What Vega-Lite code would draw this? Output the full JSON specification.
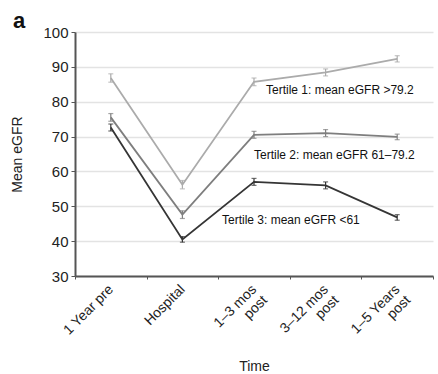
{
  "$schema": "https://vega.github.io/schema/vega-lite/v6.json",
  "autosize": "none",
  "padding": {"left": 75, "top": 32, "right": 5, "bottom": 98},
  "width": 358,
  "height": 244,
  "background": "white",
  "title": {"text": "a", "anchor": "start", "frame": "group", "dx": -62, "dy": 10, "offset": 2, "fontSize": 22, "fontWeight": "bold", "font": "Liberation Sans", "color": "#111"},
  "config": {
    "font": "Liberation Sans",
    "view": {"stroke": null},
    "axis": {"labelFont": "Liberation Sans", "titleFont": "Liberation Sans", "labelColor": "#222", "titleColor": "#222", "titleFontWeight": "normal", "labelFontSize": 14, "titleFontSize": 14, "domainColor": "#555", "domainWidth": 2, "tickColor": "#555"}
  },
  "datasets": {
    "series": [
      {"time": "1 Year pre", "tertile": "T1", "egfr": 86.8, "lo": 85.6, "hi": 88.0},
      {"time": "Hospital", "tertile": "T1", "egfr": 56.2, "lo": 55.0, "hi": 57.4},
      {"time": "1–3 mos post", "tertile": "T1", "egfr": 85.7, "lo": 84.6, "hi": 86.8},
      {"time": "3–12 mos post", "tertile": "T1", "egfr": 88.4, "lo": 87.4, "hi": 89.4},
      {"time": "1–5 Years post", "tertile": "T1", "egfr": 92.3, "lo": 91.4, "hi": 93.2},
      {"time": "1 Year pre", "tertile": "T2", "egfr": 75.5, "lo": 74.4, "hi": 76.6},
      {"time": "Hospital", "tertile": "T2", "egfr": 47.6, "lo": 46.5, "hi": 48.7},
      {"time": "1–3 mos post", "tertile": "T2", "egfr": 70.5, "lo": 69.5, "hi": 71.5},
      {"time": "3–12 mos post", "tertile": "T2", "egfr": 71.0, "lo": 70.0, "hi": 72.0},
      {"time": "1–5 Years post", "tertile": "T2", "egfr": 69.9, "lo": 69.1, "hi": 70.7},
      {"time": "1 Year pre", "tertile": "T3", "egfr": 72.6, "lo": 71.6, "hi": 73.6},
      {"time": "Hospital", "tertile": "T3", "egfr": 40.5, "lo": 39.7, "hi": 41.3},
      {"time": "1–3 mos post", "tertile": "T3", "egfr": 57.0, "lo": 56.0, "hi": 58.0},
      {"time": "3–12 mos post", "tertile": "T3", "egfr": 56.0, "lo": 55.0, "hi": 57.0},
      {"time": "1–5 Years post", "tertile": "T3", "egfr": 46.8, "lo": 46.0, "hi": 47.6}
    ]
  },
  "encoding": {
    "x": {"field": "time", "type": "nominal", "sort": null,
      "scale": {"domain": ["1 Year pre", "Hospital", "1–3 mos post", "3–12 mos post", "1–5 Years post"], "paddingInner": 0, "paddingOuter": 0},
      "axis": {"title": "Time", "labelAngle": -45, "labelAlign": "right", "labelBaseline": "middle", "tickBand": "extent", "tickSize": 3, "labelPadding": 8, "titlePadding": 13,
        "labelExpr": "indexof(datum.label, ' post') > 0 ? [replace(datum.label, ' post', ''), 'post'] : datum.label", "labelLineHeight": 15, "grid": false}}
  },
  "layer": [
    {
      "data": {"name": "series"},
      "mark": {"type": "line", "strokeWidth": 1.8},
      "encoding": {
        "y": {"field": "egfr", "type": "quantitative", "title": "Mean eGFR", "scale": {"domain": [30, 100]},
          "axis": {"title": "Mean eGFR", "values": [30, 40, 50, 60, 70, 80, 90, 100], "tickCount": 12, "labelOverlap": false, "labelFontSize": 15, "gridColor": "#e3e3e3", "gridWidth": 1.5, "tickSize": 4, "labelPadding": 3, "titlePadding": 18}},
        "color": {"field": "tertile", "type": "nominal", "scale": {"domain": ["T1", "T2", "T3"], "range": ["#ababab", "#7e7e7e", "#353535"]}, "legend": null}
      }
    },
    {
      "data": {"name": "series"},
      "mark": {"type": "rule", "strokeWidth": 1.2},
      "encoding": {
        "y": {"field": "lo", "type": "quantitative", "title": "Mean eGFR"},
        "y2": {"field": "hi"},
        "color": {"field": "tertile", "type": "nominal", "legend": null}
      }
    },
    {
      "data": {"name": "series"},
      "mark": {"type": "tick", "size": 5, "thickness": 1.2},
      "encoding": {
        "y": {"field": "lo", "type": "quantitative", "title": "Mean eGFR"},
        "color": {"field": "tertile", "type": "nominal", "legend": null}
      }
    },
    {
      "data": {"name": "series"},
      "mark": {"type": "tick", "size": 5, "thickness": 1.2},
      "encoding": {
        "y": {"field": "hi", "type": "quantitative", "title": "Mean eGFR"},
        "color": {"field": "tertile", "type": "nominal", "legend": null}
      }
    },
    {
      "data": {"values": [{"time": "1–3 mos post", "egfr": 83.4, "label": "Tertile 1: mean eGFR >79.2"}]},
      "mark": {"type": "text", "align": "left", "dx": 12, "fontSize": 12, "color": "#111", "baseline": "middle"},
      "encoding": {"y": {"field": "egfr", "type": "quantitative", "title": "Mean eGFR"}, "text": {"field": "label"}}
    },
    {
      "data": {"values": [{"time": "1–3 mos post", "egfr": 64.8, "label": "Tertile 2: mean eGFR 61–79.2"}]},
      "mark": {"type": "text", "align": "left", "dx": 0, "fontSize": 12, "color": "#111", "baseline": "middle"},
      "encoding": {"y": {"field": "egfr", "type": "quantitative", "title": "Mean eGFR"}, "text": {"field": "label"}}
    },
    {
      "data": {"values": [{"time": "1–3 mos post", "egfr": 46.1, "label": "Tertile 3: mean eGFR <61"}]},
      "mark": {"type": "text", "align": "left", "dx": -32, "fontSize": 12, "color": "#111", "baseline": "middle"},
      "encoding": {"y": {"field": "egfr", "type": "quantitative", "title": "Mean eGFR"}, "text": {"field": "label"}}
    }
  ]
}
